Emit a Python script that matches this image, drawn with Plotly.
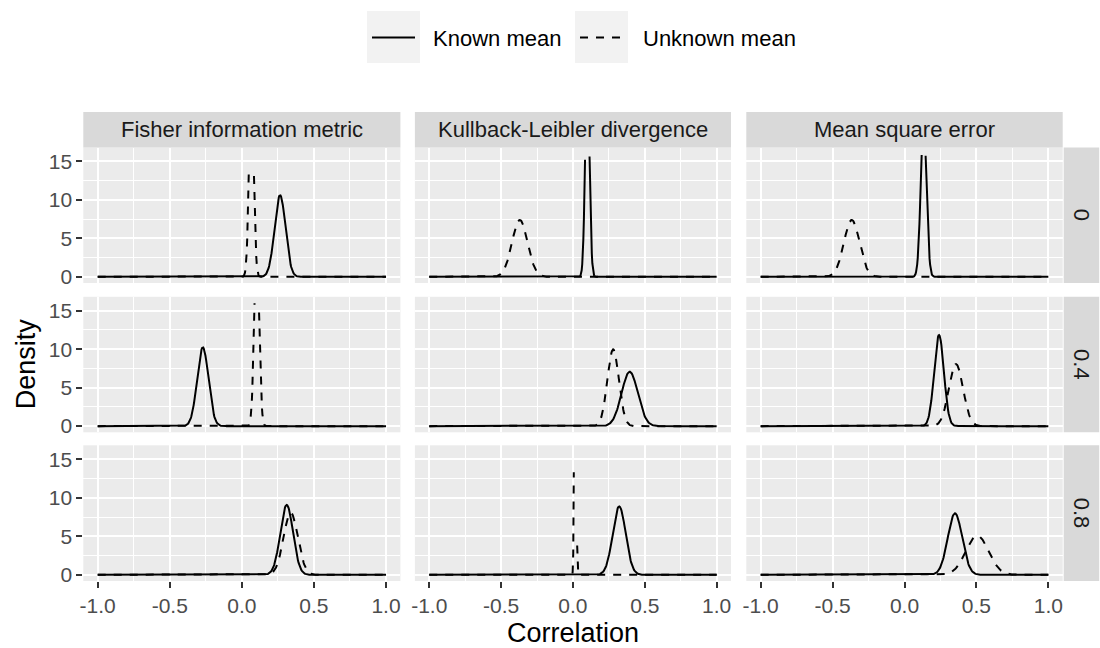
import numpy as np
import plotly.graph_objects as go

# Facet labels
methods = ["Fisher information metric", "Kullback-Leibler divergence", "Mean square error"]
rhos = ["0", "0.4", "0.8"]

# Centre and spread of each sampling distribution (rows: rho, cols: method)
known_center = [[0.265, 0.100, 0.133],
                [-0.271, 0.395, 0.240],
                [0.311, 0.322, 0.351]]
known_sd = [[0.0376, 0.0150, 0.0200],
            [0.0390, 0.0565, 0.0337],
            [0.0440, 0.0450, 0.0500]]
unknown_center = [[0.066, -0.370, -0.367],
                  [0.103, 0.280, 0.358],
                  [0.339, 0.016, 0.506]]
unknown_sd = [[0.0160, 0.0540, 0.0540],
              [0.0170, 0.0400, 0.0495],
              [0.0495, 0.0055, 0.0785]]

x_ticks = [-1.0, -0.5, 0.0, 0.5, 1.0]
x_tick_text = ["-1.0", "-0.5", "0.0", "0.5", "1.0"]
y_ticks = [0, 5, 10, 15]
y_tick_text = ["0", "5", "10", "15"]
y_limit = 16

W, H = 1100, 648
col_px = [(83.3, 400.4), (414.9, 731.0), (746.3, 1062.7)]
row_px = [(147.5, 283.0), (296.8, 432.3), (445.3, 581.0)]
strip_h = 35.5

grid_x = np.linspace(-1, 1, 512)


def density(center, sd):
    d = np.exp(-0.5 * ((grid_x - center) / sd) ** 2) / (sd * np.sqrt(2 * np.pi))
    # values beyond the axis limit are dropped, leaving a gap in the line
    return [float(v) if v <= y_limit else None for v in d]


fig = go.Figure()
layout = {}
font_small = 22
tick_font = dict(family="Arial, Liberation Sans, sans-serif", size=21, color="#4D4D4D")

for r in range(3):
    for c in range(3):
        k = r * 3 + c + 1
        xs = "" if k == 1 else str(k)
        x0, x1 = col_px[c]
        y0, y1 = row_px[r]
        layout["xaxis" + xs] = dict(
            domain=[x0 / W, x1 / W], anchor="y" + xs, range=[-1.1, 1.1],
            tickvals=x_ticks, ticktext=x_tick_text,
            showticklabels=(r == 2), ticks="outside" if r == 2 else "",
            ticklen=6, tickwidth=1.5, tickcolor="#333333", tickfont=tick_font,
            showgrid=True, gridcolor="white", gridwidth=2, zeroline=False,
            showline=False, automargin=False,
            minor=dict(dtick=0.5, tick0=-0.75, showgrid=True, gridcolor="white", gridwidth=1),
        )
        layout["yaxis" + xs] = dict(
            domain=[1 - y1 / H, 1 - y0 / H], anchor="x" + xs, range=[-0.8, 16.8],
            tickvals=y_ticks, ticktext=y_tick_text,
            showticklabels=(c == 0), ticks="outside" if c == 0 else "",
            ticklen=6, tickwidth=1.5, tickcolor="#333333", tickfont=tick_font,
            showgrid=True, gridcolor="white", gridwidth=2, zeroline=False,
            showline=False, automargin=False,
            minor=dict(dtick=5, tick0=2.5, showgrid=True, gridcolor="white", gridwidth=1),
        )
        fig.add_trace(go.Scatter(
            x=grid_x, y=density(unknown_center[r][c], unknown_sd[r][c]),
            mode="lines", line=dict(color="black", width=2, dash="8px,8px"),
            name="Unknown mean", showlegend=False, connectgaps=False,
            xaxis="x" + xs, yaxis="y" + xs, hoverinfo="skip"))
        fig.add_trace(go.Scatter(
            x=grid_x, y=density(known_center[r][c], known_sd[r][c]),
            mode="lines", line=dict(color="black", width=2),
            name="Known mean", showlegend=False, connectgaps=False,
            xaxis="x" + xs, yaxis="y" + xs, hoverinfo="skip"))

shapes = []
annotations = []

# Column strips
for c, m in enumerate(methods):
    x0, x1 = col_px[c]
    top = row_px[0][0]
    shapes.append(dict(type="rect", xref="paper", yref="paper", layer="below",
                       x0=x0 / W, x1=x1 / W, y0=1 - top / H, y1=1 - (top - strip_h) / H,
                       fillcolor="#D9D9D9", line=dict(width=0)))
    annotations.append(dict(text=m, xref="paper", yref="paper", showarrow=False,
                            x=(x0 + x1) / 2 / W, y=1 - (top - strip_h / 2) / H,
                            xanchor="center", yanchor="middle",
                            font=dict(size=font_small, color="#1A1A1A")))

# Row strips
sx0 = col_px[2][1] + 1
for r, rho in enumerate(rhos):
    y0, y1 = row_px[r]
    shapes.append(dict(type="rect", xref="paper", yref="paper", layer="below",
                       x0=sx0 / W, x1=(sx0 + strip_h) / W, y0=1 - y1 / H, y1=1 - y0 / H,
                       fillcolor="#D9D9D9", line=dict(width=0)))
    annotations.append(dict(text=rho, xref="paper", yref="paper", showarrow=False,
                            x=(sx0 + strip_h / 2) / W, y=1 - (y0 + y1) / 2 / H,
                            xanchor="center", yanchor="middle", textangle=90,
                            font=dict(size=font_small, color="#1A1A1A")))

# Axis titles
annotations.append(dict(text="Correlation", xref="paper", yref="paper", showarrow=False,
                        x=(col_px[0][0] + col_px[2][1]) / 2 / W, y=1 - 633 / H,
                        xanchor="center", yanchor="middle",
                        font=dict(size=27, color="black")))
annotations.append(dict(text="Density", xref="paper", yref="paper", showarrow=False,
                        x=26 / W, y=1 - (row_px[0][0] + row_px[2][1]) / 2 / H,
                        xanchor="center", yanchor="middle", textangle=-90,
                        font=dict(size=27, color="black")))

# Legend keys
legend_items = [("Known mean", "solid", 367, 420, 431),
                ("Unknown mean", "8px,8px", 575, 628, 641)]
for label, dash, bx0, bx1, tx in legend_items:
    shapes.append(dict(type="rect", xref="paper", yref="paper",
                       x0=bx0 / W, x1=bx1 / W, y0=1 - 63 / H, y1=1 - 11 / H,
                       fillcolor="#F2F2F2", line=dict(width=0)))
    shapes.append(dict(type="line", xref="paper", yref="paper",
                       x0=(bx0 + 5) / W, x1=(bx1 - 5) / W, y0=1 - 37.5 / H, y1=1 - 37.5 / H,
                       line=dict(color="black", width=2, dash=dash)))
    annotations.append(dict(text=label, xref="paper", yref="paper", showarrow=False,
                            x=tx / W, y=1 - 38 / H, xanchor="left", yanchor="middle",
                            font=dict(size=font_small, color="black")))

fig.update_layout(
    width=W, height=H, margin=dict(l=0, r=0, t=0, b=0),
    paper_bgcolor="white", plot_bgcolor="#EBEBEB",
    font=dict(family="Arial, Liberation Sans, sans-serif", color="black"),
    showlegend=False, shapes=shapes, annotations=annotations, **layout)

fig.write_html("out.html")
